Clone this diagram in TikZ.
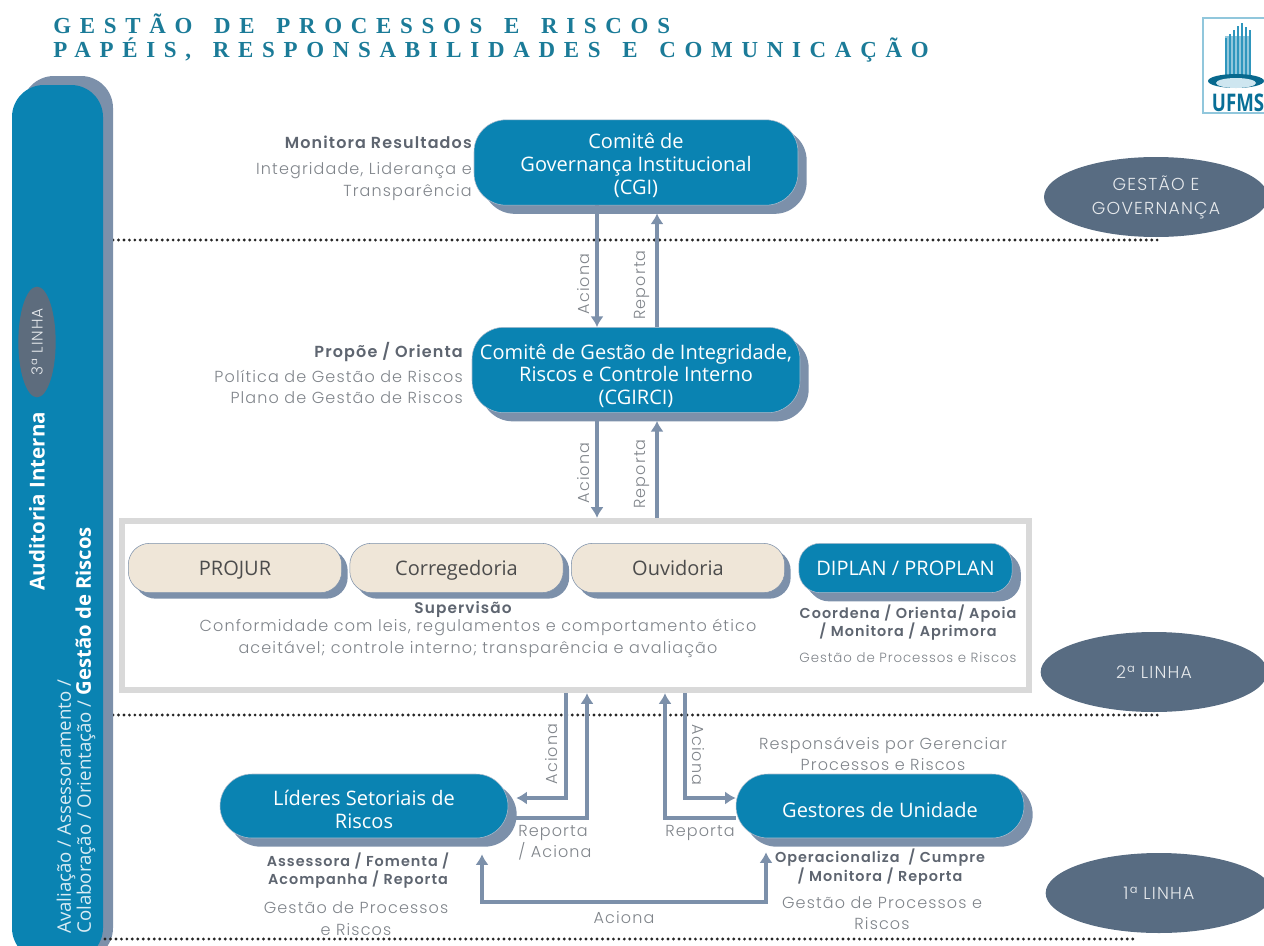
\documentclass[tikz,border=0pt]{standalone}
\usepackage{fontspec}
\usepackage{xcolor}
\usetikzlibrary{arrows.meta,calc,positioning,shadows,shapes.geometric}
\setmainfont[LetterSpace=7,BoldFont={Poppins SemiBold}]{Poppins Light}
\newfontfamily\caixa{Open Sans}
\newfontfamily\titulo[LetterSpace=38,WordSpace=1.5]{Liberation Serif}
\definecolor{azul}{HTML}{0A83B2}
\definecolor{sombra}{HTML}{7C90AA}
\definecolor{bege}{HTML}{EFE6D8}
\definecolor{ardosia}{HTML}{586C82}
\definecolor{cinza}{HTML}{7F848A}
\definecolor{escuro}{HTML}{5E6570}
\definecolor{moldura}{HTML}{D9D9D9}
\definecolor{tinta}{HTML}{1B7B98}
\tikzset{
	comite/.style={rounded corners=24pt,fill=azul,draw=sombra!60,text=white,align=center,font=\caixa\fontsize{15}{17}\selectfont,drop shadow={shadow xshift=6.5pt,shadow yshift=-6.5pt,fill=sombra,opacity=1}},
	orgao/.style={rounded corners=16pt,fill=bege,draw=sombra,text=black!70,minimum width=160pt,minimum height=37pt,text height=14pt,text depth=3pt,font=\caixa\fontsize{15}{17}\selectfont,drop shadow={shadow xshift=4.5pt,shadow yshift=-4.5pt,fill=sombra,opacity=1}},
	linha/.style={ellipse,fill=ardosia,text=white!85!ardosia,align=center,inner sep=0pt,font=\fontsize{13}{18}\selectfont},
	rotulo/.style={text=cinza,align=center,inner sep=0pt,font=\fontsize{12}{16}\selectfont},
	forte/.style={text=escuro,align=center,inner sep=0pt,font=\bfseries\fontsize{10.8}{14}\selectfont},
	seta/.style={draw=sombra,line width=2.6pt,-{Latex[length=8pt,width=10pt]}},
	pontos/.style={line width=2.4pt,line cap=round,dash pattern=on 0pt off 4.1pt,draw=black!85},
	titulos/.style={anchor=west,text=tinta,inner sep=0pt,font=\titulo\bfseries\fontsize{17.2}{19}\selectfont},
}
\begin{document}
\begin{tikzpicture}[x=0.75pt,y=-0.75pt]
	\useasboundingbox (0,0) rectangle (1264,946);
	\node[titulos] (tit1) at (53,24) {GESTÃO DE PROCESSOS E RISCOS};
	\node[titulos] (tit2) at (53,50) {PAPÉIS, RESPONSABILIDADES E COMUNICAÇÃO};

	% logo
	\draw[draw=azul!45,line width=0.8pt,fill=white] (1203,18) rectangle (1270,113);
	\fill[azul!45] (1225,36) rectangle (1250,80);
	\foreach \x/\t in {1226/38,1230/34,1234/30,1238/26,1242/23,1246/27,1250/30} \draw[azul!85,line width=1.5pt] (\x,\t) -- (\x,80);
	\fill[azul!80!black] (1236,81) ellipse (28 and 7);
	\fill[azul!20] (1236,83) ellipse (20 and 5);
	\node[text=azul!85!black,inner sep=0pt,yscale=1.3,font=\caixa\bfseries\fontsize{14}{14}\selectfont] (ufms) at (1238,103) {UFMS};

	% linhas pontilhadas
	\draw[pontos] (113,240) -- (1162,240);
	\draw[pontos] (113,715) -- (1158,715);

	% auditoria
	\fill[sombra,rounded corners=24pt] (22,76) rectangle (113,960);
	\fill[azul,rounded corners=24pt] (12,85) rectangle (103,960);
	\draw[pontos] (105,939) -- (1138,939);
	\node[ellipse,fill=ardosia!85!black!90,inner sep=0pt,minimum width=28pt,minimum height=83pt] (terceira) at (37,342) {};
	\node[rotate=90,text=white!85!ardosia,inner sep=0pt,font=\fontsize{11.5}{13}\selectfont] (lin3) at (terceira) {3ª LINHA};
	\node[rotate=90,text=white,inner sep=0pt,font=\caixa\bfseries\fontsize{15.4}{17}\selectfont] (audit) at (37,501) {Auditoria Interna};
	\node[rotate=90,anchor=west,text=white!85!azul,align=left,inner sep=0pt,font=\caixa\fontsize{14}{15}\selectfont] (aval) at (76,934) {Avaliação / Assessoramento /\\Colaboração / Orientação / {\bfseries\fontsize{15.2}{15}\selectfont\color{white}Gestão de Riscos}};

	% comites
	\node[comite,minimum width=243pt,minimum height=64pt,text height=50pt] (cgi) at (636,162.5) {Comitê de\\Governança Institucional\\(CGI)};
	\node[comite,minimum width=246pt,minimum height=64pt,text height=54pt] (cgirci) at (636,370) {Comitê de Gestão de Integridade,\\Riscos e Controle Interno\\(CGIRCI)};

	% segunda linha
	\node[draw=moldura,line width=4.5pt,minimum width=680pt,minimum height=127pt] (quadro) at (575.5,605.5) {};
	\node[orgao] (projur) at (235,568) {PROJUR};
	\node[orgao] (correg) at (456.5,568) {Corregedoria};
	\node[orgao] (ouvid) at (678,568) {Ouvidoria};
	\node[comite,rounded corners=16pt,minimum width=160pt,minimum height=37pt,text height=14pt,text depth=3pt,drop shadow={shadow xshift=4.5pt,shadow yshift=-4.5pt,fill=sombra,opacity=1}] (diplan) at (905.5,568) {DIPLAN / PROPLAN};

	% primeira linha
	\node[comite,minimum width=216pt,minimum height=48pt,text height=34pt] (lider) at (364,806) {Líderes Setoriais de\\Riscos};
	\node[comite,minimum width=216pt,minimum height=48pt,text height=17pt] (gestor) at (880,806) {Gestores de Unidade};

	% elipses
	\node[linha,minimum width=168pt,minimum height=60pt] (gov) at (1156,197) {GESTÃO E\\GOVERNANÇA};
	\node[linha,minimum width=170pt,minimum height=60pt] (seg) at (1154,672) {2ª LINHA};
	\node[linha,minimum width=170pt,minimum height=60pt] (pri) at (1159,893) {1ª LINHA};

	% setas
	\coordinate (xa) at (597,0);
	\coordinate (xb) at (657,0);
	\coordinate (xc) at (566,0);
	\coordinate (xd) at (587,0);
	\coordinate (xe) at (665,0);
	\coordinate (xf) at (685,0);
	\coordinate (xg) at (482,0);
	\coordinate (xh) at (766,0);
	\coordinate (ya) at (0,798);
	\coordinate (yb) at (0,818);
	\coordinate (yc) at (0,902);
	\draw[seta] (cgi.south -| xa) -- (cgirci.north -| xa);
	\draw[seta] (cgirci.north -| xb) -- ([yshift=-6pt]cgi.south -| xb);
	\draw[seta] ([yshift=-6pt]cgirci.south -| xa) -- (quadro.north -| xa);
	\draw[seta] (quadro.north -| xb) -- ([yshift=-6pt]cgirci.south -| xb);
	\draw[seta] (quadro.south -| xc) |- ([xshift=6pt]ya -| lider.east);
	\draw[seta] ([xshift=6pt]yb -| lider.east) -| (quadro.south -| xd);
	\draw[seta] (yb -| gestor.west) -| (quadro.south -| xe);
	\draw[seta] (quadro.south -| xf) |- (ya -| gestor.west);
	\draw[seta,{Latex[length=8pt,width=10pt]}-{Latex[length=8pt,width=10pt]}] ([yshift=-12pt]lider.south -| xg) |- (yc -| xh) -- ([yshift=-10.5pt]gestor.south -| xh);

	% rotulos das setas
	\node[rotulo,rotate=90] (acA) at (584,284) {Aciona};
	\node[rotulo,rotate=90] (reA) at (642,285) {Reporta};
	\node[rotulo,rotate=90] (acB) at (584,473) {Aciona};
	\node[rotulo,rotate=90] (reB) at (642,474) {Reporta};
	\node[rotulo,rotate=90] (acC) at (552,754) {Aciona};
	\node[rotulo,rotate=-90] (acD) at (698,755) {Aciona};
	\node[rotulo,anchor=west,align=left] (reC) at (518,843) {Reporta\\/ Aciona};
	\node[rotulo] (reD) at (700,833) {Reporta};
	\node[rotulo] (acE) at (624,918) {Aciona};

	% textos
	\node[forte,anchor=east,font=\bfseries\fontsize{12}{14}\selectfont] (mon) at (472,142) {Monitora Resultados};
	\node[rotulo,anchor=east,align=right] (integ) at (472,181.5) {Integridade, Liderança e\\Transparência};
	\node[forte,anchor=east,font=\bfseries\fontsize{12}{14}\selectfont] (prop) at (463,352) {Propõe / Orienta};
	\node[rotulo,anchor=east,align=right] (polit) at (463,387) {Política de Gestão de Riscos\\Plano de Gestão de Riscos};
	\node[forte,font=\bfseries\fontsize{11.5}{14}\selectfont] (superv) at (463,610) {Supervisão};
	\node[rotulo] (conf) at (478,638.5) {Conformidade com leis, regulamentos e comportamento ético\\aceitável; controle interno; transparência e avaliação};
	\node[forte] (coord) at (908,622.5) {Coordena / Orienta/ Apoia\\/ Monitora / Aprimora};
	\node[rotulo,font=\fontsize{10}{16}\selectfont] (gproc) at (908,658) {Gestão de Processos e Riscos};
	\node[rotulo] (resp) at (883,754) {Responsáveis por Gerenciar\\Processos e Riscos};
	\node[forte] (asses) at (358,870.5) {Assessora / Fomenta /\\Acompanha / Reporta};
	\node[rotulo] (gproa) at (356,918.5) {Gestão de Processos\\e Riscos};
	\node[forte] (oper) at (880,867) {Operacionaliza~ / Cumpre\\/ Monitora / Reporta};
	\node[rotulo] (gprob) at (882,913) {Gestão de Processos e\\Riscos};
\end{tikzpicture}
\end{document}
